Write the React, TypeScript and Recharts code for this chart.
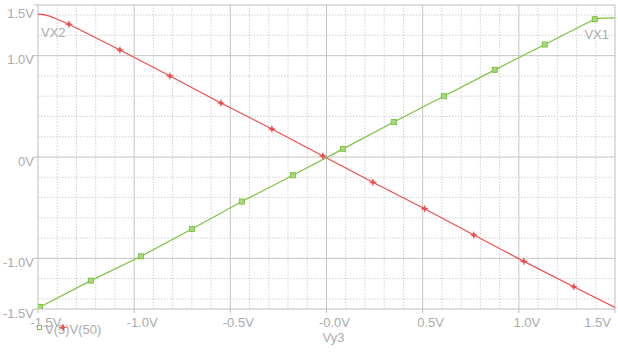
import React from "react";
import { ComposedChart, Line, XAxis, YAxis, ReferenceLine } from "recharts";

// VX2 (red) trace
const vx2X = [-1.5, -1.47, -1.44, -1.4, -1.339, -1.074, -0.814, -0.549, -0.284, -0.019, 0.241, 0.51, 0.766, 1.026, 1.286, 1.5];
const vx2Y = [1.41, 1.405, 1.39, 1.36, 1.31, 1.056, 0.8, 0.533, 0.276, 0.01, -0.25, -0.51, -0.77, -1.03, -1.28, -1.485];
const vx2Marks = [0, 0, 0, 0, 1, 1, 1, 1, 1, 1, 1, 1, 1, 1, 1, 0];

// VX1 (green) trace
const vx1X = [-1.5, -1.49, -1.225, -0.964, -0.7, -0.44, -0.175, 0.086, 0.35, 0.61, 0.875, 1.135, 1.3, 1.395, 1.43, 1.5];
const vx1Y = [-1.49, -1.48, -1.22, -0.98, -0.71, -0.44, -0.18, 0.08, 0.345, 0.6, 0.86, 1.11, 1.27, 1.36, 1.37, 1.372];
const vx1Marks = [0, 1, 1, 1, 1, 1, 1, 1, 1, 1, 1, 1, 0, 1, 0, 0];

const xTicks = [-1.5, -1, -0.5, 0, 0.5, 1, 1.5];
const xTickLabels = ["-1.5V", "-1.0V", "-0.5V", "-0.0V", "0.5V", "1.0V", "1.5V"];
const yTicks = [-1.5, -1, 0, 1, 1.5];
const yTickLabels = ["-1.5V", "-1.0V", "0V", "1.0V", "1.5V"];

const xMajor = [-1, -0.5, 0, 0.5, 1];
const xMinor = [-1.4, -1.3, -1.2, -1.1, -0.9, -0.8, -0.7, -0.6, -0.4, -0.3, -0.2, -0.1, 0.1, 0.2, 0.3, 0.4, 0.6, 0.7, 0.8, 0.9, 1.1, 1.2, 1.3, 1.4];
const yMajor = [-1, 0, 1];
const yMinor = [-1.4, -1.2, -0.8, -0.6, -0.4, -0.2, 0.2, 0.4, 0.6, 0.8, 1.2, 1.4];
const frame = [-1.5, 1.5];

const RED = "#f04c4c";
const GREEN = "#7fc241";
const TXT = "#ababab";
const FONT = "'Liberation Sans', Arial, sans-serif";

const vx2 = vx2X.map((x, i) => ({ x, y: vx2Y[i], m: vx2Marks[i] }));
const vx1 = vx1X.map((x, i) => ({ x, y: vx1Y[i], m: vx1Marks[i] }));

const RedMark = ({ cx, cy }: { cx: number; cy: number }) => (
  <g>
    <path d={`M${cx - 2.5},${cy} L${cx},${cy - 2.5} L${cx + 2.5},${cy} L${cx},${cy + 2.5} Z`} fill={RED} />
    <path d={`M${cx - 3.5},${cy} L${cx + 3.5},${cy} M${cx},${cy - 3.5} L${cx},${cy + 3.5}`} stroke={RED} strokeWidth={1} />
  </g>
);

const GreenMark = ({ cx, cy, s = 5 }: { cx: number; cy: number; s?: number }) => (
  <rect x={cx - s / 2} y={cy - s / 2} width={s} height={s} fill="#a8d880" stroke={GREEN} strokeWidth={1} />
);

const redDot = (p: any) =>
  p.payload && p.payload.m ? <RedMark key={`r${p.index}`} cx={p.cx} cy={p.cy} /> : <g key={`r${p.index}`} />;
const greenDot = (p: any) =>
  p.payload && p.payload.m ? <GreenMark key={`g${p.index}`} cx={p.cx} cy={p.cy} /> : <g key={`g${p.index}`} />;

const XTick = (p: any) => {
  const i = xTicks.indexOf(p.payload.value);
  const last = i === xTicks.length - 1;
  return (
    <text
      x={last ? p.x + 3 : p.x + 8}
      y={p.y + 14}
      textAnchor={last ? "end" : "middle"}
      fill={TXT}
      fontSize={13}
      fontFamily={FONT}
    >
      {xTickLabels[i]}
    </text>
  );
};

const YTick = (p: any) => {
  const i = yTicks.indexOf(p.payload.value);
  return (
    <text x={p.x} y={p.y + 8.5} textAnchor="end" fill={TXT} fontSize={13} fontFamily={FONT}>
      {yTickLabels[i]}
    </text>
  );
};

export default function App() {
  return (
    <div style={{ position: "absolute", left: 0, top: 0, width: 618, height: 356, background: "#fff" }}>
      <ComposedChart width={618} height={356} margin={{ top: 5, right: 3, bottom: 0, left: 0 }}>
        <XAxis
          type="number"
          dataKey="x"
          domain={[-1.5, 1.5]}
          ticks={xTicks}
          allowDataOverflow
          height={47}
          axisLine={false}
          tickLine={{ stroke: "#bdbdbd" }}
          tickSize={4}
          tickMargin={0}
          tick={XTick}
        />
        <YAxis
          type="number"
          dataKey="y"
          domain={[-1.5, 1.5]}
          ticks={yTicks}
          allowDataOverflow
          width={38}
          axisLine={false}
          tickLine={{ stroke: "#bdbdbd" }}
          tickSize={4}
          tickMargin={0}
          tick={YTick}
        />
        {xMinor.map((v) => (
          <ReferenceLine key={`xm${v}`} x={v} stroke="#d2d2d2" strokeDasharray="1.5 1.5" />
        ))}
        {yMinor.map((v) => (
          <ReferenceLine key={`ym${v}`} y={v} stroke="#d2d2d2" strokeDasharray="1.5 1.5" />
        ))}
        {xMajor.map((v) => (
          <ReferenceLine key={`xM${v}`} x={v} stroke="#c4c4c4" />
        ))}
        {yMajor.map((v) => (
          <ReferenceLine key={`yM${v}`} y={v} stroke="#c4c4c4" />
        ))}
        {frame.map((v) => (
          <ReferenceLine key={`fx${v}`} x={v} stroke="#bdbdbd" />
        ))}
        {frame.map((v) => (
          <ReferenceLine key={`fy${v}`} y={v} stroke="#bdbdbd" />
        ))}
        <Line
          data={vx2}
          dataKey="y"
          type="linear"
          stroke={RED}
          strokeWidth={1.2}
          dot={redDot}
          activeDot={false}
          isAnimationActive={false}
        />
        <Line
          data={vx1}
          dataKey="y"
          type="linear"
          stroke={GREEN}
          strokeWidth={1.2}
          dot={greenDot}
          activeDot={false}
          isAnimationActive={false}
        />
      </ComposedChart>
      <svg
        width={618}
        height={356}
        style={{ position: "absolute", left: 0, top: 0, pointerEvents: "none" }}
        fontFamily={FONT}
        fontSize={13}
        fill={TXT}
      >
        <text x={41} y={37}>VX2</text>
        <text x={609} y={39} textAnchor="end">VX1</text>
        <text x={333.5} y={342} textAnchor="middle">Vy3</text>
        <rect x={37.5} y={325.5} width={4} height={4} fill="#fff" stroke={GREEN} strokeWidth={1} />
        <text x={45} y={334}>V(5)V(50)</text>
        <RedMark cx={63} cy={327.5} />
      </svg>
    </div>
  );
}
